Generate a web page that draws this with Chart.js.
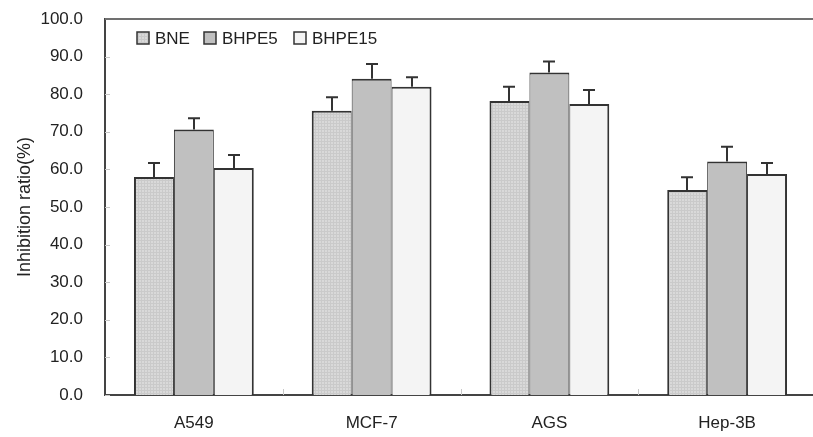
<!DOCTYPE html>
<html>
<head>
<meta charset="utf-8">
<script src="https://cdn.jsdelivr.net/npm/chart.js@4/dist/chart.umd.min.js"></script>
<style>
  html, body { margin: 0; padding: 0; background: #fff; overflow: hidden; }
  #wrap { width: 813px; height: 437px; overflow: hidden; position: relative; }
  #c { position: absolute; left: 0; top: 0; }
</style>
</head>
<body>
<div id="wrap"><canvas id="c" width="820" height="437"></canvas></div>
<script>
// Cell lines on the x axis
const cellLines = ['A549', 'MCF-7', 'AGS', 'Hep-3B'];

// Mean inhibition ratio (%) per extract
const bneValues    = [58.0, 75.6, 78.2, 54.5];
const bhpe5Values  = [70.6, 84.1, 85.8, 62.1];
const bhpe15Values = [60.4, 82.0, 77.4, 58.8];

// Standard deviations (upper error bars)
const bneErrors    = [3.7, 3.6, 3.8, 3.4];
const bhpe5Errors  = [3.0, 3.9, 2.9, 3.9];
const bhpe15Errors = [3.4, 2.5, 3.7, 2.9];

const seriesNames = ['BNE', 'BHPE5', 'BHPE15'];
const yTicks = [0, 10, 20, 30, 40, 50, 60, 70, 80, 90, 100];

const FONT = "'Liberation Sans', Arial, sans-serif";
const INK = '#333333';

// Fine dotted texture used for the BNE bars
function makeDotPattern() {
  const p = document.createElement('canvas');
  p.width = 3; p.height = 3;
  const g = p.getContext('2d');
  g.fillStyle = '#d9d9d9';
  g.fillRect(0, 0, 3, 3);
  g.fillStyle = '#cacaca';
  g.fillRect(0, 0, 1, 3);
  g.fillRect(0, 0, 3, 1);
  return g.createPattern(p, 'repeat');
}
const ctx0 = document.getElementById('c').getContext('2d');
const bnePattern = makeDotPattern();

// Upper error bars, inner tick marks, top frame line and legend
const decorations = {
  id: 'decorations',
  afterDatasetsDraw(chart) {
    const { ctx, chartArea, scales } = chart;
    const y = scales.y;
    ctx.save();
    // upper error bars
    ctx.strokeStyle = INK;
    ctx.lineWidth = 2;
    chart.data.datasets.forEach((ds, di) => {
      const meta = chart.getDatasetMeta(di);
      meta.data.forEach((bar, i) => {
        const x = Math.round(bar.x);
        const top = y.getPixelForValue(ds.data[i] + ds.errors[i]);
        const base = y.getPixelForValue(ds.data[i]);
        ctx.beginPath();
        ctx.moveTo(x, base);
        ctx.lineTo(x, top);
        ctx.moveTo(x - 6, top);
        ctx.lineTo(x + 6, top);
        ctx.stroke();
      });
    });
    // inner ticks on the y axis
    ctx.strokeStyle = '#c8c8c8';
    ctx.lineWidth = 1;
    yTicks.forEach(v => {
      const py = Math.round(y.getPixelForValue(v)) + 0.5;
      ctx.beginPath();
      ctx.moveTo(chartArea.left, py);
      ctx.lineTo(chartArea.left + 5, py);
      ctx.stroke();
    });
    // inner ticks on the x axis at category boundaries
    const n = cellLines.length;
    const w = (chartArea.right - chartArea.left) / n;
    for (let k = 1; k < n; k++) {
      const px = Math.round(chartArea.left + k * w) + 0.5;
      ctx.beginPath();
      ctx.moveTo(px, chartArea.bottom);
      ctx.lineTo(px, chartArea.bottom - 6);
      ctx.stroke();
    }
    // top frame line
    ctx.strokeStyle = '#707070';
    ctx.lineWidth = 2;
    ctx.beginPath();
    ctx.moveTo(chartArea.left, chartArea.top);
    ctx.lineTo(chart.width, chartArea.top);
    ctx.stroke();
    // legend
    const legendX = [137, 204, 294];
    const ly = 38;
    ctx.font = '17px ' + FONT;
    ctx.textBaseline = 'middle';
    ctx.textAlign = 'left';
    chart.data.datasets.forEach((ds, di) => {
      const bx = legendX[di];
      ctx.fillStyle = ds.backgroundColor;
      ctx.fillRect(bx, ly - 6, 12, 12);
      ctx.strokeStyle = INK;
      ctx.lineWidth = 1.5;
      ctx.strokeRect(bx, ly - 6, 12, 12);
      ctx.fillStyle = '#222';
      ctx.fillText(ds.label, bx + 18, ly + 1);
    });
    ctx.restore();
  }
};

new Chart(ctx0, {
  type: 'bar',
  data: {
    labels: cellLines,
    datasets: [
      { label: seriesNames[0], data: bneValues, errors: bneErrors,
        backgroundColor: bnePattern, borderColor: INK,
        borderWidth: { top: 2, left: 2, right: 1, bottom: 0 } },
      { label: seriesNames[1], data: bhpe5Values, errors: bhpe5Errors,
        backgroundColor: '#c0c0c0', borderColor: INK,
        borderWidth: { top: 2, left: 1, right: 1, bottom: 0 } },
      { label: seriesNames[2], data: bhpe15Values, errors: bhpe15Errors,
        backgroundColor: '#f4f4f4', borderColor: INK,
        borderWidth: { top: 2, left: 1, right: 2, bottom: 0 } }
    ]
  },
  options: {
    responsive: false,
    animation: false,
    devicePixelRatio: 1,
    layout: { padding: { top: 19, right: 4, left: 0, bottom: 0 } },
    datasets: { bar: { categoryPercentage: 0.674, barPercentage: 1.0, borderSkipped: 'bottom' } },
    plugins: { legend: { display: false }, tooltip: { enabled: false } },
    scales: {
      x: {
        grid: { display: false, drawTicks: false },
        border: { display: true, color: '#444', width: 2 },
        ticks: { font: { family: FONT, size: 17 }, color: '#222', padding: 18 },
        afterFit(s) { s.height = 42; }
      },
      y: {
        min: 0, max: 100,
        afterBuildTicks(s) { s.ticks = yTicks.map(v => ({ value: v })); },
        grid: { display: false, drawTicks: false },
        border: { display: true, color: '#444', width: 2 },
        ticks: {
          font: { family: FONT, size: 17 }, color: '#222', padding: 22,
          callback: v => Number(v).toFixed(1)
        },
        title: {
          display: true, text: 'Inhibition ratio(%)',
          font: { family: FONT, size: 18 }, color: '#222',
          padding: { top: 14, bottom: 0 }
        },
        // keep the plot area flush with the layout padding
        afterFit(s) { s.width = 105; s.paddingTop = 0; s.paddingBottom = 0; }
      }
    }
  },
  plugins: [decorations]
});
</script>
</body>
</html>
